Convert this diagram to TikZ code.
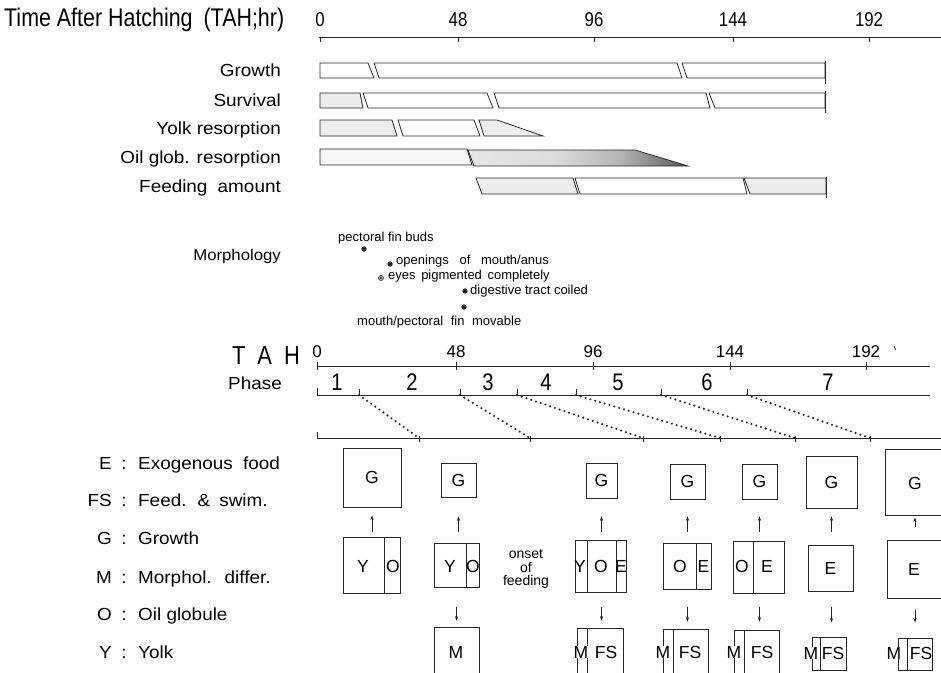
\documentclass[tikz,border=0pt]{standalone}
\usepackage{fontspec}
\setmainfont{Liberation Sans}
\newfontfamily\lab[FakeStretch=1.08]{Liberation Sans}
\newfontfamily\cond[FakeStretch=0.84]{Liberation Sans}
\usetikzlibrary{arrows.meta,fit}
\pgfdeclarehorizontalshading{oilshade}{100bp}{color(0bp)=(black!5); color(45bp)=(black!14); color(60bp)=(black!30); color(75bp)=(black!65); color(85bp)=(black); color(100bp)=(black)}
\begin{document}
\begin{tikzpicture}[x=1pt,y=-1pt,
  ln/.style={line width=0.8pt, draw=black!85},
  bar/.style={line width=0.8pt, draw=black!85, line join=miter},
  stip/.style={fill=black!7},
  lbl/.style={font=\lab\fontsize{17.5}{20}\selectfont, inner sep=0pt},
  mtext/.style={font=\fontsize{13}{15}\selectfont, inner sep=0pt, anchor=west},
  num/.style={font=\cond\fontsize{20}{22}\selectfont, inner sep=0pt},
  num2/.style={font=\fontsize{17}{19}\selectfont, inner sep=0pt},
  phnum/.style={font=\cond\fontsize{24}{26}\selectfont, inner sep=0pt},
  dotl/.style={line width=2.3pt, dash pattern=on 0pt off 5pt, line cap=round, draw=black!85},
  bx/.style={draw=black!85, line width=0.75pt, inner sep=0pt},
  bt/.style={font=\fontsize{17.5}{20}\selectfont, inner sep=0pt},
  mt/.style={font=\fontsize{17.5}{20}\selectfont, inner sep=0.3pt, fill=white},
  arr/.style={-{Stealth[length=4.5pt,width=3.2pt]}, line width=0.7pt, draw=black!85}
]
\useasboundingbox (0,0) rectangle (941,672);
\fill[white] (0,0) rectangle (941,672);

% ---------- top axis ----------
\node[anchor=west, font=\cond\fontsize{25.5}{28}\selectfont, inner sep=0pt] (title) at (4,20) {Time After Hatching\hspace{5pt} (TAH;hr)};
\coordinate (ta0) at (319,37);
\coordinate (taE) at (941,37);
\draw[ln] (ta0) -- (taE);
\foreach \x/\l in {320/0,458/48,594/96,733/144,869/192}{
  \draw[ln] (\x,37) -- (\x,42);
  \node[num] (tn\l) at (\x,20) {\l};
}

% ---------- bar labels ----------
\node[lbl, anchor=base east] (lgrowth) at (281,76.5) {Growth};
\node[lbl, anchor=base east] (lsurv) at (281,106.5) {Survival};
\node[lbl, anchor=base east] (lyolk) at (281,134) {Yolk resorption};
\node[lbl, anchor=base east] (loil) at (281,163) {Oil glob. resorption};
\node[lbl, anchor=base east] (lfeed) at (281,192) {Feeding\hspace{5pt} amount};

% Growth
\filldraw[bar, fill=white] (320,63) -- (368,63) -- (374,78) -- (320,78) -- cycle;
\filldraw[bar, fill=white] (374,63) -- (677,63) -- (682,78) -- (379,78) -- cycle;
\filldraw[bar, fill=white] (682,63) -- (825,63) -- (825,78) -- (687,78) -- cycle;
\draw[ln] (825,61) -- (825,84);
% Survival
\filldraw[bar, stip] (320,93) -- (360,93) -- (363,108) -- (320,108) -- cycle;
\filldraw[bar, fill=white] (363,93) -- (487,93) -- (493,108) -- (368,108) -- cycle;
\filldraw[bar, fill=white] (494,93) -- (706,93) -- (710,108) -- (499,108) -- cycle;
\filldraw[bar, fill=white] (709,93) -- (825,93) -- (825,108) -- (715,108) -- cycle;
\draw[ln] (825,91) -- (825,113);
% Yolk
\filldraw[bar, stip] (320,120) -- (392,120) -- (397,136) -- (320,136) -- cycle;
\filldraw[bar, fill=white] (398,120) -- (474,120) -- (480,136) -- (403,136) -- cycle;
\filldraw[bar, stip] (479,120) -- (497,120) -- (543,136) -- (484,136) -- cycle;
% Oil globule
\filldraw[bar, fill=black!4] (320,149) -- (467,149) -- (472,165) -- (320,165) -- cycle;
\shade[shading=oilshade] (468,150) -- (635,150) -- (688,166) -- (474,166) -- cycle;
\draw[bar] (468,150) -- (635,150) -- (688,166) -- (474,166) -- cycle;
% Feeding amount
\filldraw[bar, stip] (476,178) -- (573,178) -- (578,194) -- (482,194) -- cycle;
\filldraw[bar, fill=white] (575,178) -- (743,178) -- (747,194) -- (580,194) -- cycle;
\filldraw[bar, stip] (744,178) -- (826,178) -- (826,194) -- (750,194) -- cycle;
\draw[ln] (826,177) -- (826,198);

% ---------- morphology ----------
\node[font=\lab\fontsize{15.5}{18}\selectfont, inner sep=0pt, anchor=base east] (lmorph) at (281,260) {Morphology};
\node[mtext] (mpf) at (338,238) {pectoral fin buds};
\fill[black!85] (364,249) circle[radius=2.7pt];
\fill[black!85] (390,264) circle[radius=2.7pt];
\node[mtext] (mom) at (396,261) {openings\hspace{7pt} of\hspace{7pt} mouth/anus};
\draw[black!85, line width=0.8pt] (381,278) circle[radius=2.4pt];
\fill[black!85] (381,278) circle[radius=1.3pt];
\node[mtext] (mey) at (388,276) {eyes\hspace{2pt} pigmented\hspace{2pt} completely};
\fill[black!85] (465,291) circle[radius=2.7pt];
\node[mtext] (mdt) at (470,291) {digestive tract coiled};
\fill[black!85] (464,307) circle[radius=2.7pt];
\node[mtext] (mmv) at (357,322) {mouth/pectoral\hspace{4pt} fin\hspace{4pt} movable};

% ---------- TAH axis ----------
\node[anchor=east, font=\cond\fontsize{26}{28}\selectfont, inner sep=0pt] (tah) at (300,356) {T\hspace{12pt}A\hspace{12pt}H};
\draw[ln] (317,366) -- (930,366);
\foreach \x/\l in {317/0,456/48,593/96,730/144,866/192}{
  \draw[ln] (\x,362) -- (\x,370);
  \node[num2] (an\l) at (\x,352) {\l};
}
\draw[line width=0.9pt, black!80] (894,346) -- (895.5,350);

% ---------- phases ----------
\node[lbl, anchor=base east] (lphase) at (282,389) {Phase};
\draw[ln] (317,388) -- (317,395) -- (930,395);
\foreach \i/\x in {1/359,2/460,3/517,4/576,5/661,6/747}{
  \coordinate (p\i) at (\x,395);
  \draw[ln] (\x,389) -- (p\i);
}
\foreach \n/\x in {1/337,2/412,3/488,4/546,5/618,6/707,7/828}{
  \node[phnum] (ph\n) at (\x,382) {\n};
}
\draw[ln] (317,432) -- (317,438) -- (941,438);
\foreach \i/\x in {1/419,2/530,3/643,4/720,5/795,6/870}{
  \coordinate (b\i) at (\x,438);
  \draw[ln] (\x,436) -- (\x,442);
}
\foreach \i in {1,...,6}{
  \draw[dotl] (p\i) -- (b\i);
}

% ---------- legend ----------
\foreach \k/\w/\t/\y in {E/E/Exogenous\hspace{5pt} food/469,FS/FS/Feed.\hspace{4pt} \&\hspace{4pt} swim./506,G/G/Growth/544,M/M/Morphol.\hspace{6pt} differ./583,O/O/Oil globule/620,Y/Y/Yolk/658}{
  \node[lbl, anchor=base east] (lg\k) at (112,\y) {\w};
  \node[lbl, anchor=base] (lc\k) at (124,\y) {:};
  \node[lbl, anchor=base west] (lt\k) at (138,\y) {\t};
}

% ---------- boxes ----------
% column 1
\node[bx, fit={(343,448) (401,507)}] (g1) {};
\node[bt] (g1t) at (g1.center) {G};
\node[bx, fit={(343,537) (400,593)}] (yo1) {};
\draw[ln] (384,537) -- (384,593);
\node[bt] (yo1y) at (363,566) {Y};
\node[bt] (yo1o) at (393,566) {O};
\draw[arr, shorten <=5pt, shorten >=8pt] (g1.south |- yo1.north) -- (g1.south);

% column 2
\node[bx, fit={(441,463) (476,497)}] (g2) {};
\node[bt] (g2t) at (g2.center) {G};
\node[bx, fit={(434,543) (479,587)}] (yo2) {};
\draw[ln] (466,543) -- (466,587);
\node[bt] (yo2y) at (450,566) {Y};
\node[bt] (yo2o) at (473,566) {O};
\node[bx, fit={(434,627) (479,690)}] (m2) {};
\node[bt] (m2m) at (456,652) {M};
\draw[arr, shorten <=11pt, shorten >=19pt] (g2.south |- yo2.north) -- (g2.south);
\draw[arr, shorten <=20pt, shorten >=6pt] (m2.north |- yo2.south) -- (m2.north);

\node[font=\fontsize{14}{13.5}\selectfont, align=center, inner sep=0pt] (onset) at (526,569) {onset\\of\\feeding};

% column 3
\node[bx, fit={(586,463) (617,498)}] (g3) {};
\node[bt] (g3t) at (g3.center) {G};
\node[bx, fit={(575,540) (626,592)}] (yoe3) {};
\draw[ln] (587,540) -- (587,592);
\draw[ln] (616,540) -- (616,592);
\node[bt] (yoe3y) at (580,566) {Y};
\node[bt] (yoe3o) at (601,566) {O};
\node[bt] (yoe3e) at (621,566) {E};
\node[bx, fit={(577,628) (623,690)}] (mfs3) {};
\draw[ln] (587,628) -- (587,690);
\node[mt] (mfs3m) at (581,652) {M};
\node[bt] (mfs3f) at (606,652) {FS};
\draw[arr, shorten <=8pt, shorten >=18pt] (g3.south |- yoe3.north) -- (g3.south);
\draw[arr, shorten <=15pt, shorten >=7pt] (g3.south |- yoe3.south) -- (g3.south |- mfs3.north);

% column 4
\node[bx, fit={(670,464) (705,499)}] (g4) {};
\node[bt] (g4t) at (g4.center) {G};
\node[bx, fit={(663,543) (711,589)}] (oe4) {};
\draw[ln] (696,543) -- (696,589);
\node[bt] (oe4o) at (680,566) {O};
\node[bt] (oe4e) at (703.5,566) {E};
\node[bx, fit={(663,629) (708,690)}] (mfs4) {};
\draw[ln] (673,629) -- (673,690);
\node[mt] (mfs4m) at (663,652) {M};
\node[bt] (mfs4f) at (690,652) {FS};
\draw[arr, shorten <=11pt, shorten >=17pt] (g4.south |- oe4.north) -- (g4.south);
\draw[arr, shorten <=18pt, shorten >=7pt] (g4.south |- oe4.south) -- (g4.south |- mfs4.north);

% column 5
\node[bx, fit={(742,464) (777,499)}] (g5) {};
\node[bt] (g5t) at (g5.center) {G};
\node[bx, fit={(733,541) (784,593)}] (oe5) {};
\draw[ln] (753,541) -- (753,593);
\node[bt] (oe5o) at (742,566) {O};
\node[bt] (oe5e) at (767,566) {E};
\node[bx, fit={(734,630) (779,690)}] (mfs5) {};
\draw[ln] (744,630) -- (744,690);
\node[mt] (mfs5m) at (734,652) {M};
\node[bt] (mfs5f) at (762,652) {FS};
\draw[arr, shorten <=9pt, shorten >=17pt] (g5.south |- oe5.north) -- (g5.south);
\draw[arr, shorten <=14pt, shorten >=8pt] (g5.south |- oe5.south) -- (g5.south |- mfs5.north);

% column 6
\node[bx, fit={(806,456) (857,508)}] (g6) {};
\node[bt] (g6t) at (g6.center) {G};
\node[bx, fit={(808,545) (853,591)}] (e6) {};
\node[bt] (e6t) at (e6.center) {E};
\node[bx, fit={(812,637) (846,670)}] (mfs6) {};
\draw[ln] (820,637) -- (820,670);
\node[mt] (mfs6m) at (811,653) {M};
\node[bt] (mfs6f) at (833,653) {FS};
\draw[arr, shorten <=13pt, shorten >=8pt] (g6.south |- e6.north) -- (g6.south);
\draw[arr, shorten <=16pt, shorten >=14pt] (g6.south |- e6.south) -- (g6.south |- mfs6.north);

% column 7
\node[bx, fit={(885,449) (950,515)}] (g7) {};
\node[bt] (g7t) at (915,483) {G};
\node[bx, fit={(887,540) (950,598)}] (e7) {};
\node[bt] (e7t) at (914,569) {E};
\node[bx, fit={(898,638) (932,670)}] (mfs7) {};
\draw[ln] (907,638) -- (907,670);
\node[mt] (mfs7m) at (894,653) {M};
\node[bt] (mfs7f) at (921,653) {FS};
\draw[arr, shorten <=13pt, shorten >=2pt] (g7t |- e7.north) -- (g7t |- g7.south);
\draw[arr, shorten <=12pt, shorten >=15pt] (g7t |- e7.south) -- (g7t |- mfs7.north);

\end{tikzpicture}
\end{document}
